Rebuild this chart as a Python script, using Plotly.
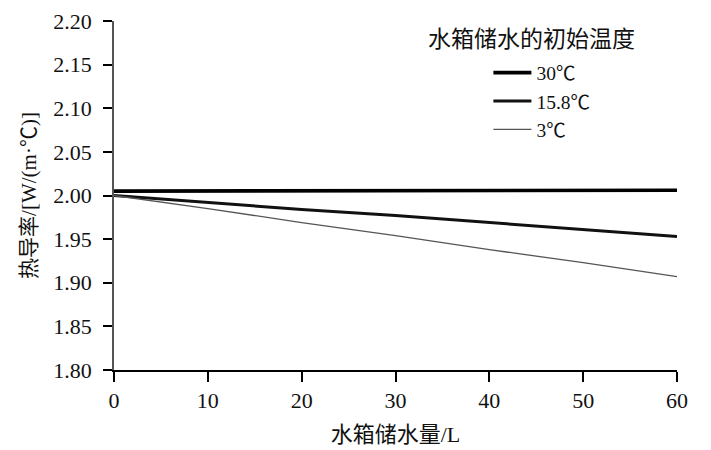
import plotly.graph_objects as go

x_water = [0, 10, 20, 30, 40, 50, 60]
k_30 = [2.005, 2.005, 2.005, 2.005, 2.006, 2.006, 2.006]
k_158 = [2.000, 1.992, 1.984, 1.977, 1.969, 1.961, 1.953]
k_3 = [2.000, 1.985, 1.969, 1.954, 1.938, 1.923, 1.907]
names = ["30℃", "15.8℃", "3℃"]

FONT = "Liberation Serif, Noto Sans CJK SC"
CJK = "Liberation Serif, Noto Sans CJK SC"

fig = go.Figure()
styles = [(3.6, "#000000"), (3.0, "#111111"), (1.3, "#555555")]
for i, (ys, nm) in enumerate(zip([k_30, k_158, k_3], names)):
    w, c = styles[i]
    fig.add_trace(go.Scatter(x=x_water, y=ys, mode="lines", name=nm,
                             legendgroup=f"g{i}",
                             line=dict(color=c, width=w)))

fig.update_layout(
    width=711, height=450,
    margin=dict(l=106, r=42, t=13, b=88, autoexpand=False),
    paper_bgcolor="white", plot_bgcolor="white",
    font=dict(family=FONT, size=20, color="#111"),
    showlegend=True,
    legend=dict(x=0.665, y=0.907, xanchor="left", yanchor="top",
                bgcolor="rgba(0,0,0,0)", tracegroupgap=0,
                font=dict(family=FONT, size=19.5), itemwidth=38),
    annotations=[dict(text="水箱储水的初始温度", x=0.742, y=0.946, xref="paper", yref="paper",
                      xanchor="center", yanchor="middle", showarrow=False,
                      font=dict(family=CJK, size=23, color="#111"))],
)
fig.update_xaxes(range=[0, 60], tickmode="array", tickvals=x_water,
                 ticks="outside", ticklen=10, tickwidth=1.5, tickcolor="#000",
                 showline=True, linecolor="#000", linewidth=1.5,
                 showgrid=False, zeroline=False, automargin=False,
                 title=dict(text="水箱储水量/L", font=dict(family=CJK, size=22), standoff=14),
                 tickfont=dict(family=FONT, size=22))
fig.update_yaxes(range=[1.80, 2.20], tickmode="linear", tick0=1.80, dtick=0.05, tickformat=".2f",
                 ticks="outside", ticklen=9, tickwidth=1.5, tickcolor="#000",
                 showline=True, linecolor="#555", linewidth=1.5,
                 showgrid=False, zeroline=False, ticklabelstandoff=7, automargin=False,
                 title=dict(text="热导率/[W/(m·℃)]", font=dict(family=CJK, size=21), standoff=11),
                 tickfont=dict(family=FONT, size=22))

fig.write_html("out.html")
